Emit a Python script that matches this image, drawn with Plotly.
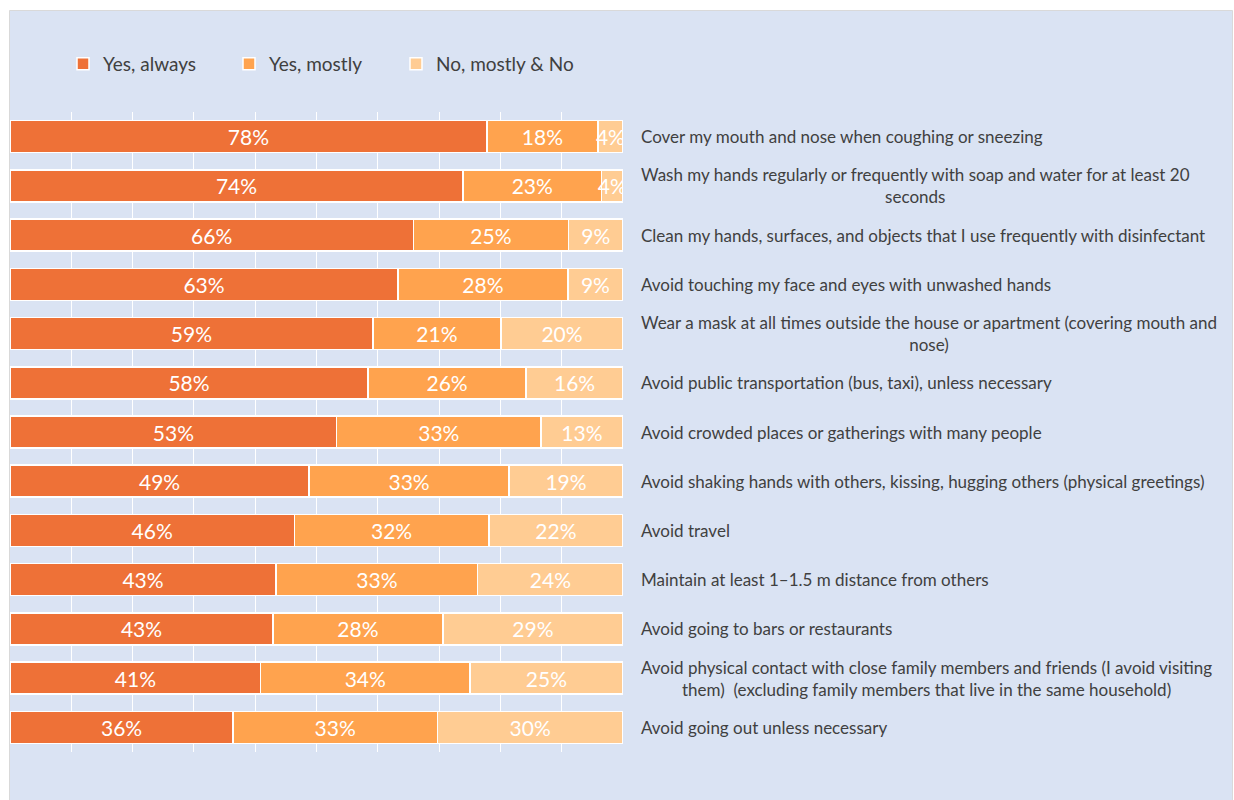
import plotly.graph_objects as go

categories = [
    "Cover my mouth and nose when coughing or sneezing",
    "Wash my hands regularly or frequently with soap and water for at least 20<br>seconds",
    "Clean my hands, surfaces, and objects that I use frequently with disinfectant",
    "Avoid touching my face and eyes with unwashed hands",
    "Wear a mask at all times outside the house or apartment (covering mouth and<br>nose)",
    "Avoid public transportation (bus, taxi), unless necessary",
    "Avoid crowded places or gatherings with many people",
    "Avoid shaking hands with others, kissing, hugging others (physical greetings)",
    "Avoid travel",
    "Maintain at least 1–1.5 m distance from others",
    "Avoid going to bars or restaurants",
    "Avoid physical contact with close family members and friends (I avoid visiting<br>them)  (excluding family members that live in the same household)",
    "Avoid going out unless necessary",
]
yes_always = [77.8, 73.9, 65.8, 63.3, 59.2, 58.4, 53.3, 48.8, 46.4, 43.4, 42.9, 40.9, 36.4]
yes_mostly = [18.1, 22.6, 25.3, 27.7, 20.9, 25.8, 33.3, 32.6, 31.7, 32.9, 27.7, 34.1, 33.3]
no_mostly_no = [4.1, 3.5, 8.9, 9.0, 19.9, 15.8, 13.4, 18.6, 21.9, 23.7, 29.4, 25.0, 30.3]
labels_always = ["78%", "74%", "66%", "63%", "59%", "58%", "53%", "49%", "46%", "43%", "43%", "41%", "36%"]
labels_mostly = ["18%", "23%", "25%", "28%", "21%", "26%", "33%", "33%", "32%", "33%", "28%", "34%", "33%"]
labels_no = ["4%", "4%", "9%", "9%", "20%", "16%", "13%", "19%", "22%", "24%", "29%", "25%", "30%"]
series_names = ["Yes, always", "Yes, mostly", "No, mostly & No"]
colors = ["#EE7137", "#FFA34E", "#FFCC93"]

FONT = "Lato"
ids = list(range(len(categories)))

# plot area geometry (pixels)
L, R, T, B = 10, 611, 112, 48
W = 1234 - L - R
H = 800 - T - B

def px_x(p):
    return (p - L) / W

def px_y(p):
    return (800 - B - p) / H

legend_ids = ["legend", "legend2", "legend3"]
legend_px = [63, 229, 396]

fig = go.Figure()
for name, vals, txt, col, lg in zip(series_names, [yes_always, yes_mostly, no_mostly_no],
                                    [labels_always, labels_mostly, labels_no], colors, legend_ids):
    fig.add_trace(go.Bar(
        y=ids, x=vals, name=name, orientation="h", legend=lg,
        marker=dict(color=col, line=dict(color="white", width=1.5)),
        text=txt, textposition="inside", insidetextanchor="middle", textangle=0,
        textfont=dict(color="white", size=21, family=FONT),
        hoverinfo="skip",
    ))

for i, c in enumerate(categories):
    fig.add_annotation(
        x=px_x(639), xref="paper", y=i, yref="y", text=c, showarrow=False,
        xanchor="left", yanchor="middle", align="center",
        font=dict(size=17, color="#404040", family=FONT),
    )

fig.add_shape(type="rect", xref="paper", yref="paper",
              x0=px_x(9.5), x1=px_x(1232.5), y0=px_y(801), y1=px_y(10.5),
              fillcolor="#DAE3F3", line=dict(color="#D9D9D9", width=1), layer="below")

legend_style = dict(orientation="h", y=px_y(64), xanchor="left", yanchor="middle",
                    font=dict(size=19, color="#404040", family=FONT),
                    bgcolor="rgba(0,0,0,0)", itemwidth=30)

fig.update_layout(
    width=1234, height=800,
    margin=dict(l=L, r=R, t=T, b=B, pad=0),
    paper_bgcolor="white", plot_bgcolor="rgba(0,0,0,0)",
    barmode="stack", bargap=0.35,
    uniformtext=dict(minsize=21, mode="show"),
    showlegend=True,
    legend=dict(x=px_x(legend_px[0]), **legend_style),
    legend2=dict(x=px_x(legend_px[1]), **legend_style),
    legend3=dict(x=px_x(legend_px[2]), **legend_style),
    xaxis=dict(range=[0, 100], dtick=10, showgrid=True, gridcolor="white", gridwidth=1,
               showticklabels=False, zeroline=False, showline=False, fixedrange=True),
    yaxis=dict(range=[len(categories) - 0.5, -0.5], showticklabels=False, showgrid=False,
               zeroline=False, fixedrange=True),
    font=dict(family=FONT),
)

fig.write_html("out.html")
